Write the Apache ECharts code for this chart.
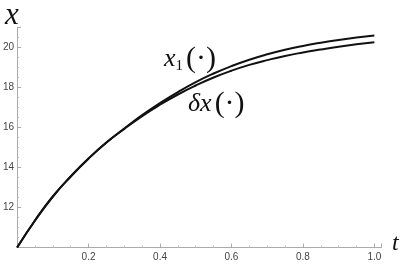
<!DOCTYPE html>
<html><head><meta charset="utf-8">
<script src="https://cdn.jsdelivr.net/npm/echarts@6/dist/echarts.min.js"></script>
<style>html,body{margin:0;padding:0;background:#fff}#c{width:408px;height:267px}</style>
</head><body><div id="c"></div>
<script>
const tValues = [0,0.05,0.1,0.15,0.2,0.25,0.3,0.35,0.4,0.45,0.5,0.55,0.6,0.65,0.7,0.75,0.8,0.85,0.9,0.95,1.0];
const x1Values = [10.0,11.35,12.55,13.55,14.45,15.25,15.95,16.62,17.22,17.77,18.27,18.7,19.07,19.39,19.66,19.89,20.08,20.24,20.38,20.5,20.6];
const dxValues = [10.0,11.35,12.55,13.55,14.45,15.25,15.93,16.57,17.14,17.65,18.1,18.5,18.84,19.13,19.37,19.58,19.75,19.9,20.04,20.16,20.26];
const xTickLabels = ['0.2','0.4','0.6','0.8','1.0'];
const yTickLabels = ['12','14','16','18','20'];

const chart = echarts.init(document.getElementById('c'), null, {renderer:'canvas'});
const pair = (ys) => tValues.map((t,i)=>[t, ys[i]]);
const axisCommon = {
  axisLine:{show:true, onZero:false, lineStyle:{color:'#aaa', width:1}},
  axisTick:{show:true, inside:true, length:4, lineStyle:{color:'#aaa'}},
  minorTick:{show:true, splitNumber:4, length:2, lineStyle:{color:'#bbb'}},
  splitLine:{show:false},
  axisLabel:{color:'#444', fontSize:10, fontFamily:'Liberation Sans, Arial, sans-serif'}
};
chart.setOption({
  animation:false,
  grid:{left:15, right:26.5, top:27.5, bottom:19.5, containLabel:false},
  xAxis:Object.assign({}, axisCommon, {
    type:'value', min:0, max:1.02, interval:0.2,
    axisLabel:Object.assign({}, axisCommon.axisLabel, {margin:5,
      formatter:(v)=>{const s=v.toFixed(1); return xTickLabels.includes(s) && Math.abs(v*5-Math.round(v*5))<1e-6 ? s : '';}})
  }),
  yAxis:Object.assign({}, axisCommon, {
    type:'value', min:10, max:21, interval:2,
    axisLabel:Object.assign({}, axisCommon.axisLabel, {margin:3,
      formatter:(v)=>{const s=String(v); return yTickLabels.includes(s) ? s : '';}})
  }),
  series:[
    {type:'line', name:'x1', data:pair(x1Values), smooth:true, symbol:'none', lineStyle:{color:'#111', width:2}},
    {type:'line', name:'dx', data:pair(dxValues), smooth:true, symbol:'none', lineStyle:{color:'#111', width:2}}
  ],
  graphic:[
    {type:'text', left:5, top:0, style:{text:'x', font:'italic 31px "Liberation Serif", serif', fill:'#111'}},
    {type:'text', left:392, top:232, style:{text:'t', font:'italic 24px "Liberation Serif", serif', fill:'#111'}},
    {type:'text', left:164, top:44, style:{
      text:'{v|x}{s|1}{p|(·)}',
      rich:{
        v:{font:'italic 26px "Liberation Serif", serif', fill:'#111'},
        s:{font:'15px "Liberation Serif", serif', fill:'#111', padding:[14,0,0,0]},
        p:{font:'30px "Liberation Serif", serif', fill:'#111', padding:[0,0,0,3]}
      }}},
    {type:'text', left:188, top:89, style:{
      text:'{v|δx}{p|(·)}',
      rich:{
        v:{font:'italic 26px "Liberation Serif", serif', fill:'#111'},
        p:{font:'30px "Liberation Serif", serif', fill:'#111', padding:[0,0,0,3]}
      }}}
  ]
});
</script></body></html>
